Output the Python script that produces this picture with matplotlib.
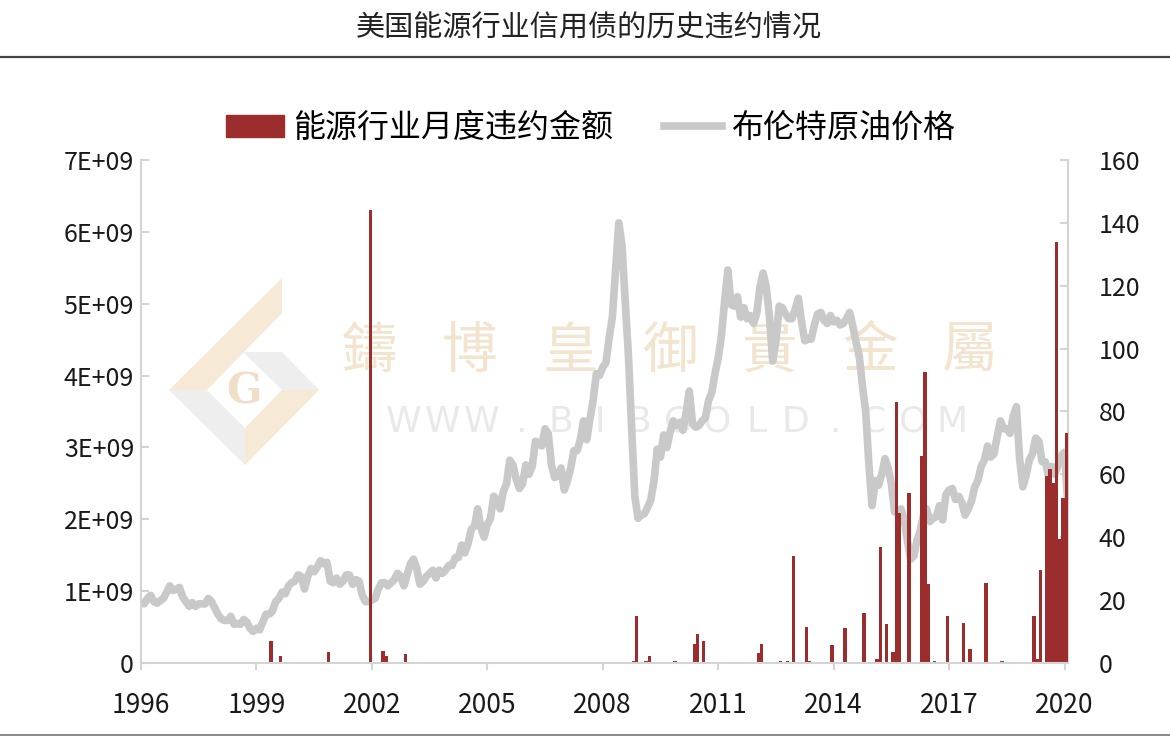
import numpy as np
import matplotlib
matplotlib.use('Agg')
import matplotlib.pyplot as plt
from matplotlib.patches import Patch, Polygon
from matplotlib.lines import Line2D
from matplotlib.ticker import FuncFormatter

plt.rcParams['font.family'] = ['Noto Sans CJK SC', 'DejaVu Sans']

# Brent crude, monthly (USD/bbl), Jan 1996 - Feb 2020
brent_start = 1996
brent = [
    19.0, 18.8, 20.5, 21.5, 19.5, 19.0, 19.8, 20.5, 22.5, 24.5, 23.0, 23.5,   # 1996
    24.0, 21.0, 19.5, 18.0, 19.2, 18.0, 18.8, 18.8, 18.8, 20.5, 19.5, 17.5,   # 1997
    15.5, 14.0, 13.5, 13.5, 14.8, 12.3, 12.5, 12.3, 13.8, 13.0, 11.0, 10.0,   # 1998
    11.0, 10.5, 13.0, 15.5, 15.5, 16.5, 19.5, 20.5, 22.5, 22.0, 24.5, 25.5,   # 1999
    26.0, 28.0, 27.5, 23.5, 27.5, 30.0, 29.0, 30.5, 32.5, 31.5, 32.0, 26.0,   # 2000
    25.5, 27.0, 25.0, 26.0, 28.0, 28.0, 25.0, 26.5, 26.0, 21.5, 19.5, 19.5,   # 2001
    20.0, 20.5, 23.5, 25.5, 25.5, 24.5, 25.5, 26.5, 28.5, 27.5, 24.5, 28.0,   # 2002
    31.5, 33.0, 30.0, 25.0, 26.0, 27.5, 28.5, 29.5, 27.0, 29.5, 28.5, 29.5,   # 2003
    31.0, 31.0, 33.5, 33.5, 37.5, 35.0, 38.0, 42.5, 43.5, 49.0, 43.0, 40.0,   # 2004
    44.0, 46.0, 53.0, 52.0, 49.0, 54.5, 57.0, 64.5, 63.0, 58.5, 55.5, 57.0,   # 2005
    63.0, 60.0, 62.5, 70.5, 70.0, 69.0, 74.5, 73.0, 63.0, 59.0, 59.5, 62.0,   # 2006
    55.0, 58.0, 62.0, 67.5, 67.5, 71.0, 77.0, 71.0, 77.5, 83.5, 92.0, 91.5,   # 2007
    94.0, 95.5, 103.5, 110.0, 125.0, 140.0, 133.0, 115.0, 98.0, 75.0, 53.0, 46.0,  # 2008
    47.0, 47.5, 49.5, 52.0, 58.0, 68.0, 65.5, 72.5, 68.5, 73.5, 77.0, 75.5,   # 2009
    76.5, 74.0, 79.5, 86.5, 76.0, 75.0, 75.5, 77.0, 78.0, 83.5, 86.0, 92.0,   # 2010
    97.0, 104.0, 115.0, 125.0, 114.0, 113.5, 116.5, 110.0, 113.0, 109.5, 110.5, 108.0,  # 2011
    111.0, 119.5, 124.0, 119.5, 110.0, 96.0, 102.5, 113.5, 113.0, 111.0, 109.5, 109.5,  # 2012
    112.5, 116.0, 108.5, 102.5, 103.0, 103.0, 107.5, 111.0, 111.5, 109.0, 108.0, 110.5,  # 2013
    108.5, 109.0, 107.5, 108.0, 109.5, 111.5, 107.0, 102.0, 97.5, 88.0, 80.0, 63.0,  # 2014
    50.0, 58.0, 56.5, 60.0, 65.0, 62.0, 57.0, 48.0, 48.5, 49.0, 45.5, 39.0,   # 2015
    33.0, 34.0, 39.0, 42.0, 47.0, 49.0, 45.0, 46.0, 46.5, 50.0, 45.5, 53.5,   # 2016
    55.0, 55.5, 52.0, 53.0, 51.0, 47.0, 49.0, 51.5, 56.0, 58.0, 62.5, 64.5,   # 2017
    69.0, 65.5, 66.5, 72.0, 77.0, 74.5, 74.5, 73.0, 78.5, 81.5, 65.0, 56.0,   # 2018
    59.5, 64.5, 66.5, 71.5, 70.5, 64.0, 64.0, 59.5, 62.5, 60.0, 63.0, 66.0,   # 2019
    67.0, 51.0,                                                               # 2020
]

# monthly energy-sector defaults (in E+09 USD)
default_months = [
    '1999-05', '1999-08', '2000-11', '2001-12', '2002-04', '2002-05', '2002-11',
    '2008-10', '2008-11', '2009-02', '2009-03', '2009-11', '2010-05', '2010-06',
    '2010-08', '2011-03', '2012-01', '2012-02', '2012-08', '2012-10', '2012-12',
    '2013-04', '2013-05', '2013-12', '2014-04', '2014-10', '2015-02', '2015-03',
    '2015-05', '2015-07', '2015-08', '2015-09', '2015-12', '2016-04', '2016-05',
    '2016-06', '2016-08', '2016-12', '2017-05', '2017-07', '2017-12', '2018-05',
    '2019-03', '2019-04', '2019-05', '2019-07', '2019-08', '2019-09', '2019-10',
    '2019-11', '2019-12', '2020-01',
]
default_amounts = [
    0.30, 0.09, 0.15, 6.31, 0.17, 0.10, 0.12,
    0.02, 0.65, 0.02, 0.10, 0.03, 0.26, 0.40,
    0.30, 0.01, 0.14, 0.26, 0.03, 0.02, 1.49,
    0.50, 0.03, 0.25, 0.48, 0.70, 0.05, 1.62,
    0.54, 0.15, 3.63, 2.08, 2.36, 2.88, 4.05,
    1.10, 0.02, 0.65, 0.56, 0.20, 1.11, 0.02,
    0.65, 0.05, 1.30, 2.60, 2.70, 2.50, 5.86,
    1.72, 2.30, 3.20,
]

year_ticks = [1996, 1999, 2002, 2005, 2008, 2011, 2014, 2017, 2020]


def month_to_year(s):
    y, m = s.split('-')
    return int(y) + (int(m) - 1) / 12


brent_x = brent_start + np.arange(len(brent)) / 12
bar_x = [month_to_year(m) for m in default_months]
bar_y = np.array(default_amounts) * 1e9

bar_color = '#9c2d2d'
line_color = '#c9c9c9'
spine_color = '#d4d4d4'

fig = plt.figure(figsize=(11.7, 7.44), dpi=100)
ax = fig.add_axes([0.1205, 0.109, 0.7923, 0.676])
ax2 = ax.twinx()

ax2.plot(brent_x, brent, color=line_color, lw=5.5, solid_capstyle='round',
         solid_joinstyle='round')
ax.bar(bar_x, bar_y, width=0.085, color=bar_color, align='edge')

# bars above the line
ax.set_zorder(ax2.get_zorder() + 1)
ax.patch.set_visible(False)
ax2.patch.set_visible(False)

ax.set_xlim(1996, 2020.09)
ax.set_ylim(0, 7e9)
ax2.set_ylim(0, 160)
ax.set_xticks(year_ticks)
ax.set_yticks(np.arange(0, 8e9, 1e9))
ax2.set_yticks(np.arange(0, 161, 20))
ax.yaxis.set_major_formatter(FuncFormatter(lambda v, p: '0' if v == 0 else f'{v:.0E}'))

for a in (ax, ax2):
    for s in a.spines.values():
        s.set_color(spine_color)
        s.set_linewidth(1.5)
    a.spines['top'].set_visible(False)
ax.spines['right'].set_visible(False)
ax2.spines['left'].set_visible(False)
ax2.spines['bottom'].set_visible(False)

ax.tick_params(axis='y', direction='in', length=6, width=1.5, color=spine_color,
               labelsize=18, pad=5, labelcolor='#1a1a1a')
ax2.tick_params(axis='y', direction='in', length=6, width=1.5, color=spine_color,
                labelsize=18, pad=22, labelcolor='#1a1a1a')
ax.tick_params(axis='x', direction='out', length=5, width=1.5, color=spine_color,
               labelsize=19, pad=16, labelcolor='#1a1a1a')

# title and rules
fig.text(0.503, 0.962, '美国能源行业信用债的历史违约情况', ha='center', va='center',
         fontsize=21, color='#222222')
fig.add_artist(Line2D([0, 1], [0.923, 0.923], color='#444444', lw=1.6))
fig.add_artist(Line2D([0, 1], [0.012, 0.012], color='#888888', lw=1.4))

# legend
handles = [Patch(color=bar_color), Line2D([], [], color=line_color, lw=5.5)]
fig.legend(handles, ['能源行业月度违约金额', '布伦特原油价格'], loc='center',
           bbox_to_anchor=(0.505, 0.828), ncol=2, frameon=False, fontsize=23,
           handlelength=1.8, handletextpad=0.3, columnspacing=1.6)

# watermark: logo + text
def px(pts):
    return [(x / 1170, 1 - y / 744) for x, y in pts]

beige = '#f6ead6'
pale = '#eeeeee'
logo = [
    (px([(169, 390), (282, 278), (282, 313), (207, 390)]), beige),
    (px([(243, 352), (282, 352), (319, 390), (282, 390)]), pale),
    (px([(319, 390), (282, 390), (245, 428), (245, 465)]), beige),
    (px([(169, 390), (207, 390), (245, 428), (245, 465)]), pale),
]
for pts, c in logo:
    fig.add_artist(Polygon(pts, closed=True, facecolor=c, edgecolor='none',
                           transform=fig.transFigure, zorder=-1))
fig.text(244 / 1170, 1 - 392 / 744, 'G', ha='center', va='center', fontsize=30,
         fontweight='bold', color='#f0dfc6', family='DejaVu Serif', zorder=-1)

for i, ch in enumerate('鑄博皇御貴金屬'):
    fig.text(0.316 + i * 0.0855, 0.527, ch, ha='center', va='center', fontsize=40,
             color='#f3e4cf', zorder=-1)
for i, ch in enumerate('WWW.BIBGOLD.COM'):
    fig.text(0.345 + i * 0.0335, 0.433, ch, ha='center', va='center', fontsize=26,
             color='#e9e9e9', zorder=-1, family='DejaVu Sans')

fig.savefig('out.png', dpi=100)
